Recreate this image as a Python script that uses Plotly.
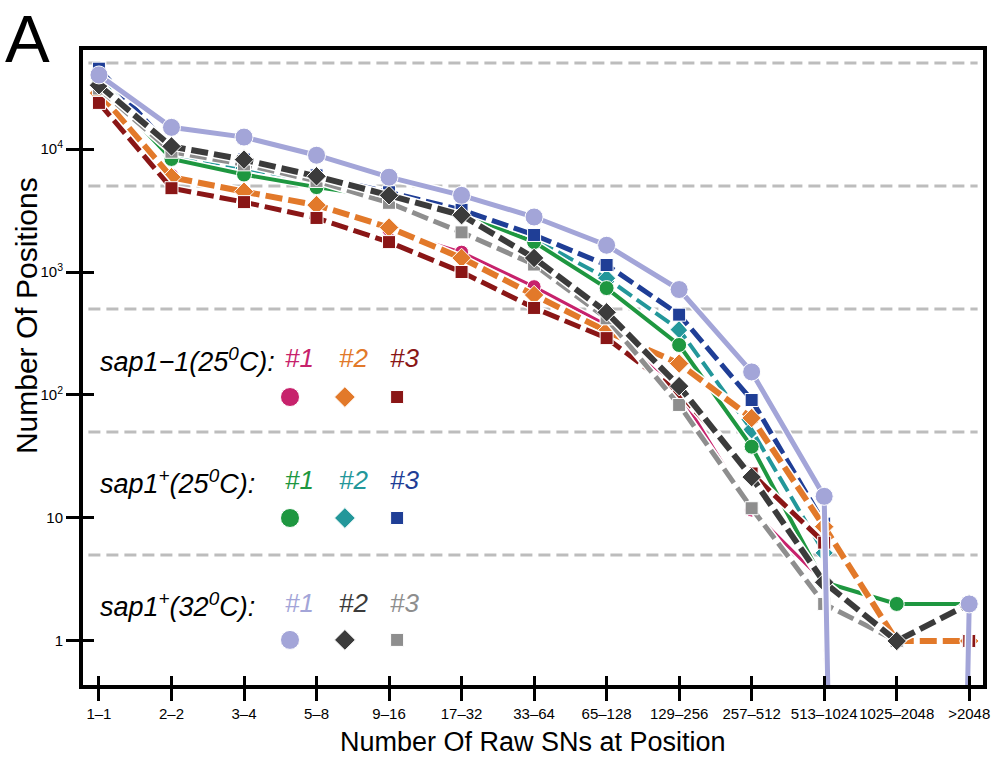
import plotly.graph_objects as go

# ---------------- data ----------------
categories = ["1–1", "2–2", "3–4", "5–8", "9–16", "17–32", "33–64", "65–128",
              "129–256", "257–512", "513–1024", "1025–2048", ">2048"]

# sap1-1 (25 C)
sap1_1_25C_rep1 = [30000, 6100, 4400, 3500, 2200, 1450, 760, 370, 105, 11.6, 3, 1, 1]
sap1_1_25C_rep2 = [28500, 5900, 4500, 3500, 2300, 1300, 650, 330, 180, 65, 8.5, 1, 1]
sap1_1_25C_rep3 = [23700, 4800, 3700, 2750, 1750, 1000, 510, 290, 104, 23, 6.3, 0, 1]
# sap1+ (25 C)
sap1p_25C_rep1 = [35000, 8300, 6200, 4900, 4000, 3000, 1750, 740, 255, 38, 3, 2, 2]
sap1p_25C_rep2 = [38000, 9000, 7000, 5300, 4100, 3000, 1850, 890, 340, 52, 5.2, 0, 0]
sap1p_25C_rep3 = [45000, 10000, 8200, 6100, 4450, 3200, 2000, 1140, 450, 91, 9, 1, 1]
# sap1+ (32 C)
sap1p_32C_rep1 = [40000, 15000, 12500, 8900, 5900, 4200, 2800, 1650, 720, 154, 15, 0, 2]
sap1p_32C_rep2 = [33000, 10500, 8200, 6000, 4200, 2900, 1300, 470, 118, 21.5, 3, 1, 2]
sap1p_32C_rep3 = [31000, 9500, 7500, 5500, 3650, 2100, 1150, 420, 83, 12, 2, 1, 2]

y_tick_values = [1, 10, 100, 1000, 10000]
y_tick_labels = ["1", "10", "10<sup>2</sup>", "10<sup>3</sup>", "10<sup>4</sup>"]
ref_line_values = [5, 50, 500, 5000, 50000]

# ---------------- styles ----------------
C_CRIMSON = "#c7226c"
C_ORANGE = "#e2792a"
C_DARKRED = "#8a1616"
C_GREEN = "#1e9740"
C_TEAL = "#23979a"
C_BLUE = "#1f3e96"
C_LAV = "#a3a5d8"
C_DGRAY = "#3b3b3b"
C_GRAY = "#8e8e8e"

DASH = "17px,6px"
series = [
    # values, color, symbol, dash, width, marker size
    (sap1_1_25C_rep1, C_CRIMSON, "circle", "solid", 3, 14),
    (sap1p_25C_rep2, C_TEAL, "diamond", DASH, 4, 14),
    (sap1p_25C_rep1, C_GREEN, "circle", "solid", 4, 15),
    (sap1p_25C_rep3, C_BLUE, "square", DASH, 5, 13),
    (sap1_1_25C_rep2, C_ORANGE, "diamond", DASH, 6, 15),
    (sap1_1_25C_rep3, C_DARKRED, "square", DASH, 5, 13),
    (sap1p_32C_rep3, C_GRAY, "square", DASH, 5, 13),
    (sap1p_32C_rep2, C_DGRAY, "diamond", DASH, 6, 15),
    (sap1p_32C_rep1, C_LAV, "circle", "solid", 5, 18),
]

ZERO_FLOOR = 1e-30  # zero counts drop off the bottom of the log axis
xs = list(range(len(categories)))

fig = go.Figure()
for vals, color, sym, dash, w, ms in series:
    yv = [v if v > 0 else ZERO_FLOOR for v in vals]
    fig.add_trace(go.Scatter(x=xs, y=yv, mode="lines",
                             line=dict(color="white", width=w + 3),
                             hoverinfo="skip", showlegend=False))
    fig.add_trace(go.Scatter(x=xs, y=yv, mode="lines+markers",
                             line=dict(color=color, width=w, dash=dash),
                             marker=dict(symbol=sym, size=ms, color=color, opacity=1,
                                         line=dict(color="white", width=1)),
                             showlegend=False))

# dummy trace so the inner-tick overlay axes are drawn
fig.add_trace(go.Scatter(x=[None], y=[None], xaxis="x2", yaxis="y2",
                         showlegend=False, hoverinfo="skip"))

# custom legend markers (in a 0..1 overlay frame)
leg_x = [0.230, 0.291, 0.349]
leg_y = [0.4535, 0.263, 0.071]
leg_rows = [
    [(C_CRIMSON, "circle", 19), (C_ORANGE, "diamond", 16), (C_DARKRED, "square", 13)],
    [(C_GREEN, "circle", 19), (C_TEAL, "diamond", 16), (C_BLUE, "square", 13)],
    [(C_LAV, "circle", 19), (C_DGRAY, "diamond", 16), (C_GRAY, "square", 13)],
]
lx, ly, lc, ls, lsz = [], [], [], [], []
for r, row in enumerate(leg_rows):
    for c, (col, sym, sz) in enumerate(row):
        lx.append(leg_x[c]); ly.append(leg_y[r]); lc.append(col); ls.append(sym); lsz.append(sz)
fig.add_trace(go.Scatter(x=lx, y=ly, mode="markers", xaxis="x3", yaxis="y3",
                         marker=dict(color=lc, symbol=ls, size=lsz, opacity=1),
                         showlegend=False, hoverinfo="skip"))

XR = [-0.22, 12.19]
YR = [-0.358, 4.805]
FONT = "Liberation Sans, Arial, Helvetica, sans-serif"

fig.update_layout(
    width=993, height=757,
    margin=dict(l=83, r=10, t=50, b=72, autoexpand=False),
    paper_bgcolor="white", plot_bgcolor="white",
    font=dict(family=FONT, color="black"),
    xaxis=dict(range=XR, tickmode="array", tickvals=xs, ticktext=categories,
               tickangle=0, automargin=False,
               ticks="outside", ticklen=12, tickwidth=3, tickcolor="black",
               showline=True, linewidth=4, linecolor="black", mirror=True,
               showgrid=False, zeroline=False,
               tickfont=dict(size=15, family=FONT, color="black")),
    yaxis=dict(type="log", range=YR, tickmode="array", tickvals=y_tick_values,
               ticktext=y_tick_labels, ticks="outside", ticklen=13, tickwidth=3,
               automargin=False,
               tickcolor="black", showline=True, linewidth=4, linecolor="black",
               mirror=True, showgrid=False, zeroline=False,
               tickfont=dict(size=15, family=FONT, color="black")),
    xaxis2=dict(overlaying="x", anchor="y", side="bottom", range=XR,
                tickmode="array", tickvals=xs, ticks="inside", ticklen=9,
                tickwidth=3, tickcolor="black", showticklabels=False,
                showline=False, showgrid=False, zeroline=False),
    yaxis2=dict(overlaying="y", anchor="x", side="left", type="log", range=YR,
                tickmode="array", tickvals=y_tick_values, ticks="inside",
                ticklen=11, tickwidth=3, tickcolor="black", showticklabels=False,
                showline=False, showgrid=False, zeroline=False),
    xaxis3=dict(overlaying="x", anchor="y3", range=[0, 1], visible=False),
    yaxis3=dict(overlaying="y", anchor="x3", range=[0, 1], visible=False),
)

# dashed reference lines
for yv in ref_line_values:
    fig.add_shape(type="line", xref="paper", x0=0.006, x1=0.994, yref="y",
                  y0=yv, y1=yv, layer="below",
                  line=dict(color="#bdbdbd", width=3, dash="12px,6px"))

ann = []
ann.append(dict(text="A", xref="paper", yref="paper", x=-0.089, y=1.08,
                xanchor="left", yanchor="top", showarrow=False,
                font=dict(size=67, family=FONT, color="black")))
ann.append(dict(text="Number Of Raw SNs at Position", xref="paper", yref="paper",
                x=0.5, y=-0.0898, xanchor="center", yanchor="middle", showarrow=False,
                font=dict(size=27, family=FONT, color="black")))
ann.append(dict(text="Number Of Positions", xref="paper", yref="paper",
                x=-0.0633, y=0.581, xanchor="center", yanchor="middle", showarrow=False,
                textangle=-90, font=dict(size=30, family=FONT, color="black")))

row_labels = ["<i>sap1−1(25<sup>0</sup>C):</i>",
              "<i>sap1<sup>+</sup>(25<sup>0</sup>C):</i>",
              "<i>sap1<sup>+</sup>(32<sup>0</sup>C):</i>"]
row_text_y = [0.512, 0.320, 0.126]
num_x = [0.222, 0.282, 0.339]
for r in range(3):
    ann.append(dict(text=row_labels[r], xref="paper", yref="paper", x=0.017,
                    y=row_text_y[r], xanchor="left", yanchor="middle",
                    showarrow=False, font=dict(size=27, family=FONT, color="black")))
    for c in range(3):
        ann.append(dict(text="<i>#%d</i>" % (c + 1), xref="paper", yref="paper",
                        x=num_x[c], y=row_text_y[r] + 0.003, xanchor="left",
                        yanchor="middle", showarrow=False,
                        font=dict(size=26, family=FONT, color=leg_rows[r][c][0])))
fig.update_layout(annotations=ann)

fig.write_html("out.html", config={"displayModeBar": False},
               post_script="document.body.style.margin='0px';"
                           "document.body.style.overflow='hidden';")
